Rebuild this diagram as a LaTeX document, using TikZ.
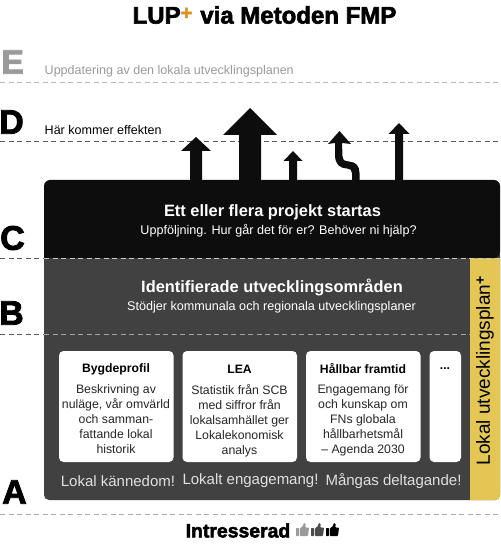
\documentclass[tikz,border=0pt]{standalone}
\usepackage{fontspec}
\setmainfont{Liberation Sans}
\newfontfamily\heavyfont[FakeBold=2.5]{Liberation Sans Bold}
\usepackage{xcolor}
\definecolor{panelgray}{HTML}{414141}
\definecolor{nearblack}{HTML}{0D0D0D}
\definecolor{lupyellow}{HTML}{E3C653}
\definecolor{luporange}{HTML}{E0920F}
\definecolor{fadegray}{HTML}{9A9A9A}
% arrow going up: x, tip y, head base y, head half width, shaft half width
\newcommand{\effectarrow}[5]{
    \fill[nearblack] (#1,#2) -- (#1+#4,#3) -- (#1+#5,#3) -- (#1+#5,181)
        -- (#1-#5,181) -- (#1-#5,#3) -- (#1-#4,#3) -- cycle;
}
% thumb icon: x, y of the lower left corner, colour
\newcommand{\thumbicon}[3]{
    \fill[#3, rounded corners=0.6pt] (#1,#2) rectangle +(3,-8);
    \fill[#3, rounded corners=0.8pt] (#1+3.8,#2) -- (#1+3.8,#2-7.5) -- (#1+7,#2-10)
        -- (#1+7.6,#2-13) -- (#1+9.6,#2-12.5) -- (#1+9.4,#2-8.5) -- (#1+13,#2-8.5)
        -- (#1+12,#2) -- cycle;
}

\begin{document}
\begin{tikzpicture}[
    x=1pt, y=-1pt,
    levelline/.style={dashed, dash pattern=on 5pt off 3.5pt, line width=0.6pt},
    letter/.style={font=\heavyfont\fontsize{34}{34}\selectfont, anchor=west, inner sep=0pt},
    leveltext/.style={font=\fontsize{12.55}{15}\selectfont, anchor=west, inner sep=0pt},
    heading/.style={font=\bfseries\fontsize{16.4}{19}\selectfont, text=white, inner sep=0pt},
    subheading/.style={font=\fontsize{12.6}{15}\selectfont, text=white, inner sep=0pt},
    card/.style={fill=white, rounded corners=4.5pt, draw=none},
    cardhead/.style={font=\bfseries\fontsize{12.2}{15}\selectfont, inner sep=0pt},
    cardtext/.style={font=\fontsize{12.3}{15.2}\selectfont, align=center, inner sep=0pt, text=black!85},
    slogan/.style={font=\fontsize{15}{18}\selectfont, text=black!12, inner sep=0pt}
]
\useasboundingbox (0,0) rectangle (500,545);

% --- Level lines ---
\coordinate (eleft) at (0,82);   \coordinate (eright) at (500,82);
\coordinate (dleft) at (0,141);  \coordinate (dright) at (500,141);
\coordinate (cleft) at (0,258);  \coordinate (cright) at (44,258);
\coordinate (bleft) at (0,334);  \coordinate (bright) at (44,334);
\coordinate (aleft) at (0,514);  \coordinate (aright) at (500,514);
\draw[levelline, fadegray!70] (eleft) -- (eright);
\draw[levelline, black!65] (dleft) -- (dright);
\draw[levelline, black!65] (cleft) -- (cright);
\draw[levelline, black!65] (bleft) -- (bright);
\draw[levelline, fadegray!80] (aleft) -- (aright);

% --- Title ---
\node[inner sep=0pt, font=\heavyfont\fontsize{24}{26}\selectfont] (title) at (264.5,15)
    {LUP\raisebox{4pt}{\textcolor{luporange}{\fontsize{20}{20}\selectfont +}}\,\,via Metoden FMP};

% --- Panels ---
\fill[panelgray, rounded corners=5pt] (44,250) rectangle (500,500);
\fill[lupyellow] (470,258) -- (500,258) [rounded corners=5pt] -- (500,500) [sharp corners] -- (470,500) -- cycle;
\fill[nearblack, rounded corners=6pt] (44,258) -- (44,180) -- (500,180) -- (500,258) [sharp corners] -- cycle;
\draw[levelline, black!20, line width=0.5pt] (44,258) -- (500,258);
\draw[levelline, black!35, line width=0.5pt] (44,334) -- (470,334);

% --- Effect arrows ---
\effectarrow{196}{137}{151}{15}{6}
\effectarrow{250}{108}{135}{27}{11}
\effectarrow{293}{151}{161}{9.5}{4}
\effectarrow{399}{123}{134}{10.5}{4}
\fill[nearblack] (339.5,131) -- (351,144) -- (342,143) -- (342.5,156)
    .. controls (343,161) and (345,161) .. (349,161.5)
    .. controls (356,162) and (359.5,166) .. (359.5,173) -- (359.5,181) -- (352,181) -- (352,173)
    .. controls (352,170) and (350,168.5) .. (347,168.5)
    .. controls (339,168) and (335.5,164) .. (335,156) -- (335,143) -- (328,144) -- cycle;

% --- Level letters ---
\node[letter, text=fadegray] (letterE) at (1,62) {E};
\node[letter, text=black] (letterD) at (-1,122) {D};
\node[letter, text=black] (letterC) at (0,238) {C};
\node[letter, text=black] (letterB) at (-1,313) {B};
\node[letter, text=black] (letterA) at (2,492) {A};

\node[leveltext, text=fadegray] (update) at (44.5,71) {Uppdatering av den lokala utvecklingsplanen};
\node[leveltext] (effect) at (44.5,130) {Här kommer effekten};

% --- Headings ---
\node[heading] (projects) at (272.5,212.5) {Ett eller flera projekt startas};
\node[subheading] (followup) at (278.5,231) {Uppföljning. Hur går det för er? Behöver ni hjälp?};
\node[heading] (areas) at (272,287.5) {Identifierade utvecklingsområden};
\node[subheading] (support) at (271.5,307) {Stödjer kommunala och regionala utvecklingsplaner};

% --- Cards ---
\fill[card] (59,351) rectangle (173.5,462);
\fill[card] (182.5,351) rectangle (297,462);
\fill[card] (306,351) rectangle (420.5,462);
\fill[card] (429.5,351) rectangle (461,462);

\node[cardhead] (profile) at (116,369) {Bygdeprofil};
\node[cardhead] (lea) at (239.5,369) {LEA};
\node[cardhead] (future) at (363,369) {Hållbar framtid};
\node[cardhead] (more) at (445,369) {...};

\node[cardtext, anchor=north] (profiletext) at (116,384)
    {Beskrivning av\\nuläge, vår omvärld\\och samman-\\fattande lokal\\historik};
\node[cardtext, anchor=north] (leatext) at (239.5,384)
    {Statistik från SCB\\med siffror från\\lokalsamhället ger\\Lokalekonomisk\\analys};
\node[cardtext, anchor=north] (futuretext) at (363,384)
    {Engagemang för\\och kunskap om\\FNs globala\\hållbarhetsmål\\– Agenda 2030};

% --- Slogans ---
\node[slogan] (knowledge) at (118,481) {Lokal kännedom!};
\node[slogan] (engaged) at (250.5,481) {Lokalt engagemang!};
\node[slogan] (joined) at (393.5,481) {Mångas deltagande!};

% --- Side label ---
\node[rotate=90, inner sep=0pt, font=\fontsize{19}{22}\selectfont] (sidelabel) at (485,371)
    {Lokal utvecklingsplan\raisebox{5pt}{\bfseries\fontsize{14}{14}\selectfont +}};

% --- Footer ---
\node[inner sep=0pt, font=\heavyfont\fontsize{19.4}{21}\selectfont] (interested) at (238,530.5) {Intresserad};
\thumbicon{296}{536}{fadegray}
\thumbicon{311}{536}{black!70}
\thumbicon{326}{536}{black}

\end{tikzpicture}
\end{document}
